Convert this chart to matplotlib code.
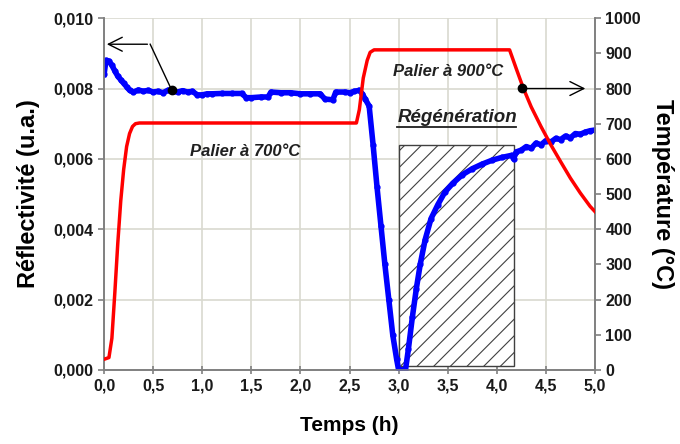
import matplotlib
matplotlib.use("Agg")
import matplotlib.pyplot as plt
from matplotlib.patches import Rectangle

plt.rcParams['font.family'] = ['Liberation Sans', 'DejaVu Sans']
plt.rcParams['hatch.linewidth'] = 0.8

# reflectivity (left axis)
t_refl = [0.00, 0.02, 0.05, 0.08, 0.11, 0.14, 0.17, 0.20, 0.23, 0.26, 0.30, 0.35,
          0.40, 0.45, 0.50, 0.55, 0.60, 0.65, 0.70, 0.75, 0.80, 0.85, 0.90, 0.95,
          1.00, 1.05, 1.10, 1.20, 1.30, 1.40, 1.45, 1.50, 1.60, 1.67, 1.70, 1.80,
          1.90, 2.00, 2.10, 2.20, 2.25, 2.33, 2.36, 2.45, 2.50, 2.55, 2.60, 2.63,
          2.66, 2.70, 2.74, 2.78, 2.82, 2.86, 2.90, 2.94, 2.98, 3.00, 3.03, 3.07,
          3.10, 3.14, 3.18, 3.22, 3.27, 3.33, 3.40, 3.47, 3.55, 3.65, 3.75, 3.85,
          3.95, 4.05, 4.15, 4.17, 4.20, 4.25, 4.30, 4.35, 4.40, 4.45, 4.50, 4.55,
          4.60, 4.65, 4.70, 4.75, 4.80, 4.85, 4.90, 4.95, 5.00]
refl = [0.00840, 0.00880, 0.00878, 0.00866, 0.00850, 0.00835, 0.00825, 0.00815, 0.00805, 0.00795, 0.00790, 0.00796,
        0.00792, 0.00795, 0.00790, 0.00792, 0.00788, 0.00795, 0.00792, 0.00790, 0.00794, 0.00790, 0.00792, 0.00782,
        0.00782, 0.00785, 0.00785, 0.00786, 0.00786, 0.00786, 0.00774, 0.00774, 0.00776, 0.00776, 0.00790, 0.00788,
        0.00788, 0.00785, 0.00785, 0.00785, 0.00770, 0.00768, 0.00790, 0.00790, 0.00788, 0.00792, 0.00795, 0.00785,
        0.00770, 0.00750, 0.00640, 0.00520, 0.00410, 0.00300, 0.00200, 0.00100, 0.00030, 0.00000, 0.00000, 0.00000,
        0.00060, 0.00150, 0.00230, 0.00300, 0.00370, 0.00430, 0.00470, 0.00505, 0.00530, 0.00555, 0.00572, 0.00585,
        0.00596, 0.00604, 0.00610, 0.00600, 0.00620, 0.00625, 0.00635, 0.00630, 0.00645, 0.00640, 0.00652, 0.00648,
        0.00658, 0.00655, 0.00665, 0.00660, 0.00672, 0.00670, 0.00676, 0.00680, 0.00682]

# temperature (right axis)
t_temp = [0.00, 0.05, 0.08, 0.11, 0.14, 0.17, 0.20, 0.23, 0.26, 0.29, 0.32, 0.36,
          2.57, 2.60, 2.64, 2.68, 2.71, 2.75, 4.13, 4.20, 4.27, 4.35, 4.45, 4.55,
          4.65, 4.75, 4.85, 4.95, 5.00]
temp = [30, 35, 90, 220, 360, 480, 570, 635, 672, 692, 700, 702,
        702, 740, 830, 880, 903, 910, 910, 855, 801, 748, 692, 640,
        592, 545, 503, 465, 450]

regen_x = (3.0, 4.17)
regen_top = 0.0064

fig = plt.figure(figsize=(6.8, 4.44), dpi=100)
ax = fig.add_axes([0.153, 0.167, 0.722, 0.792])
ax2 = ax.twinx()

grid_c = '#d9d9d0'
spine_c = '#808080'

ax.set_xlim(0, 5)
ax.set_ylim(0, 0.010)
ax2.set_ylim(0, 1000)
ax.set_xticks([i * 0.5 for i in range(11)])
ax.set_yticks([0, 0.002, 0.004, 0.006, 0.008, 0.010])
ax2.set_yticks(range(0, 1001, 100))
ax.set_xticklabels([f"{i * 0.5:.1f}".replace('.', ',') for i in range(11)])
ax.set_yticklabels([f"{v:.3f}".replace('.', ',') for v in [0, 0.002, 0.004, 0.006, 0.008, 0.010]])
ax.grid(True, color=grid_c, linewidth=1.2)
ax.set_axisbelow(True)

for a in (ax, ax2):
    for s in a.spines.values():
        s.set_color(spine_c)
        s.set_linewidth(1.2)
    a.spines['top'].set_visible(False)
    a.tick_params(colors='#1a1a1a', length=4, width=1.2, color=spine_c, labelsize=11.5)
    for lab in a.get_xticklabels() + a.get_yticklabels():
        lab.set_fontweight('bold')
ax.tick_params(axis='x', direction='inout', length=6)

ax.add_patch(Rectangle((regen_x[0], 0.0001), regen_x[1] - regen_x[0], regen_top - 0.0001,
                       facecolor='white', edgecolor='#404040', hatch='//', linewidth=1.0, zorder=1))

ax.plot(t_refl, refl, color='#0000ff', lw=4, marker='o', ms=3.5, zorder=3)
ax2.plot(t_temp, temp, color='#ff0000', lw=2.5, zorder=3)

# annotations
ax.plot([0.69], [0.00795], 'o', color='black', ms=6, zorder=4)
ax.plot([0.69, 0.47], [0.00795, 0.00926], color='black', lw=1, zorder=4)
ax.annotate('', xy=(0.0, 0.00926), xytext=(0.47, 0.00926),
            arrowprops=dict(arrowstyle='->,head_length=1.0,head_width=0.5', color='black', lw=1))
ax2.plot([4.26], [801], 'o', color='black', ms=6, zorder=4)
ax2.annotate('', xy=(4.93, 800), xytext=(4.26, 800),
             arrowprops=dict(arrowstyle='->,head_length=1.0,head_width=0.5', color='black', lw=1))

ax.text(1.44, 0.0062, 'Palier à 700°C', fontsize=12, fontweight='bold', style='italic',
        ha='center', va='center', color='#202020')
ax2.text(3.50, 848, 'Palier à 900°C', fontsize=12, fontweight='bold', style='italic',
         ha='center', va='center', color='#202020')
ax.text(3.60, 0.00718, 'Régénération', fontsize=13.5, fontweight='bold', style='italic',
        ha='center', va='center', color='#202020')
ax.plot([2.98, 4.20], [0.00690, 0.00690], color='#202020', lw=1.3)

ax.set_xlabel('Temps (h)', fontsize=15, fontweight='bold', labelpad=16)
ax.set_ylabel('Réflectivité (u.a.)', fontsize=17, fontweight='bold', labelpad=10)
ax2.set_ylabel('Température (°C)', fontsize=17, fontweight='bold', rotation=-90, labelpad=24)

fig.savefig('out.png', dpi=100)
